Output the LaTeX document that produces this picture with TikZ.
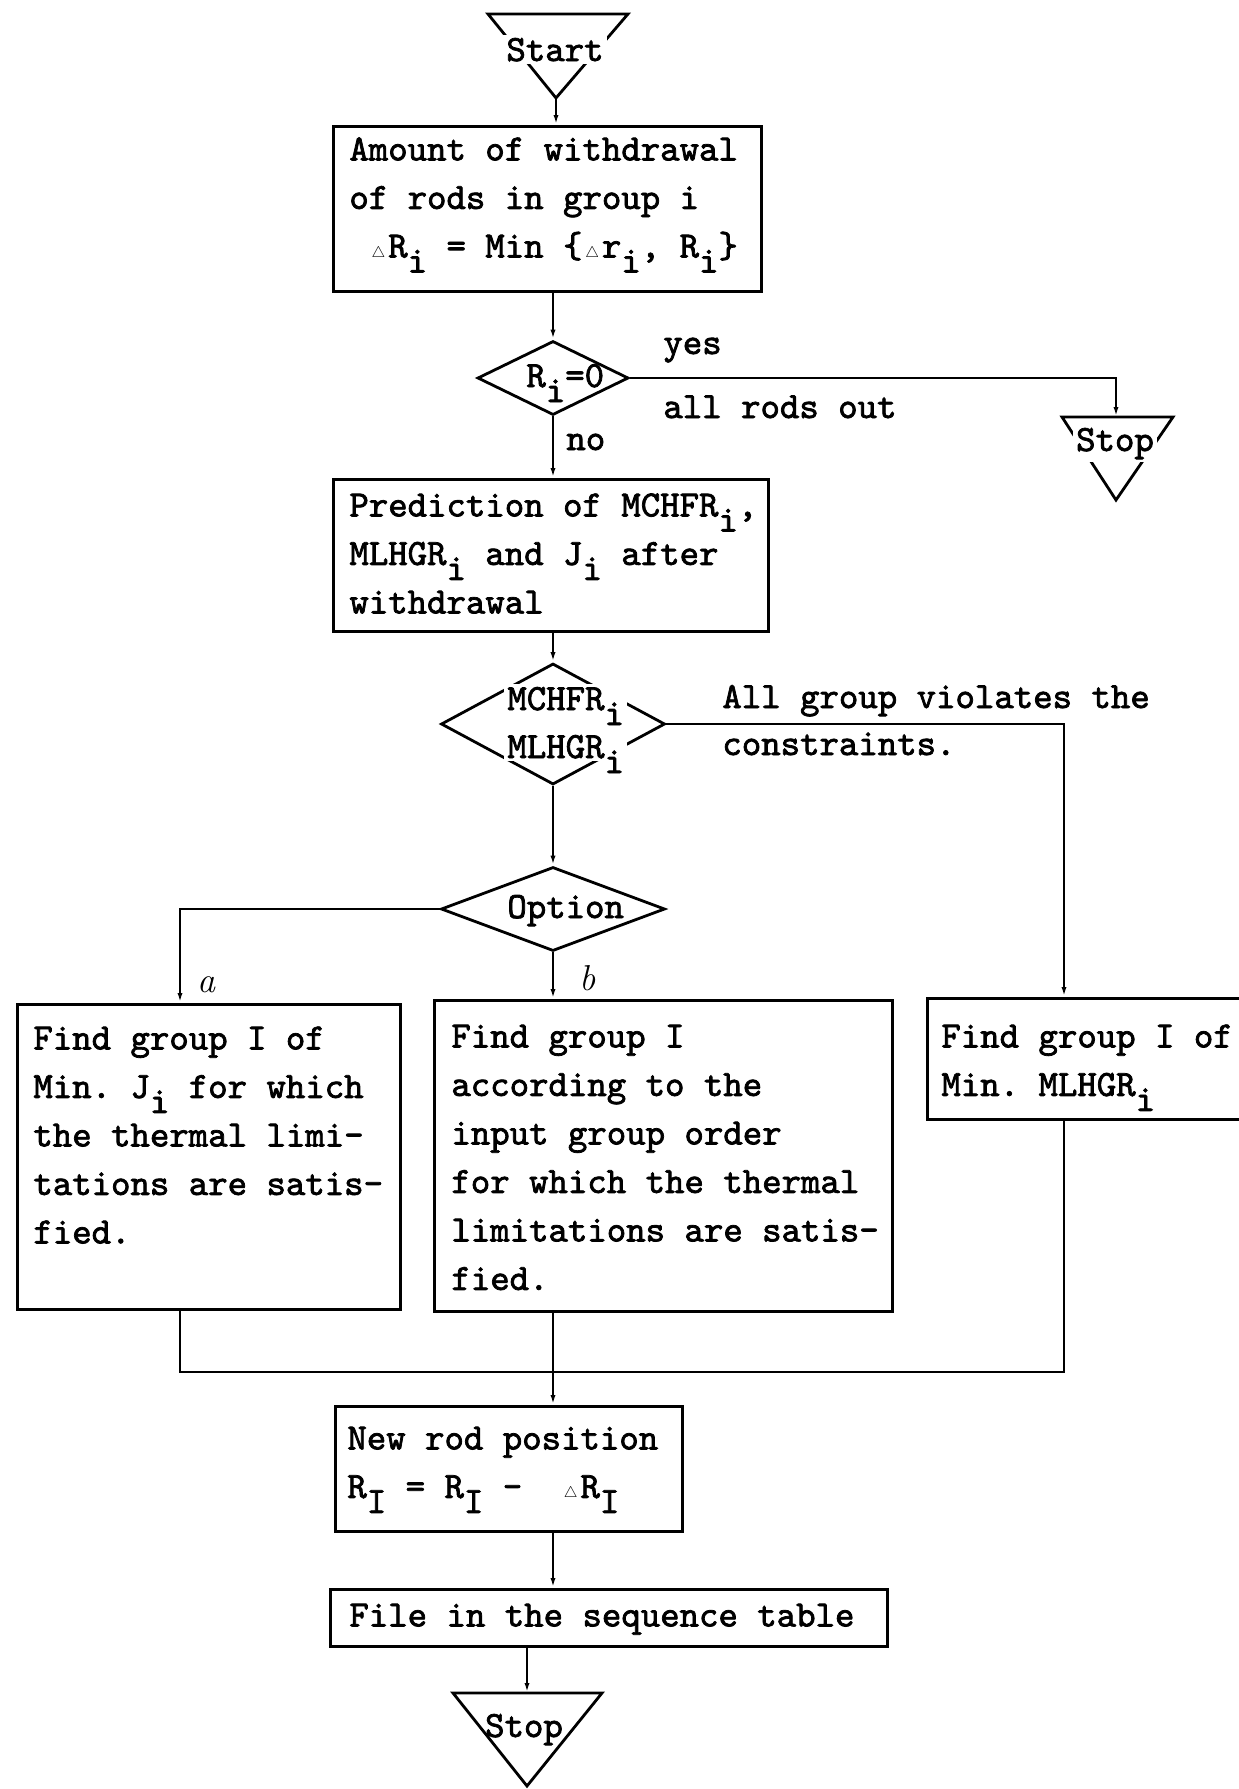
\documentclass[tikz,border=0pt]{standalone}
\usepackage{fontspec}
\setmonofont{lmmono10-regular.otf}[FakeBold=2]
\usepackage{graphicx}
\usetikzlibrary{arrows.meta,shapes.geometric}
\newcommand\tw{\fontsize{37}{48.5}\selectfont\ttfamily}
\newcommand\sbx[1]{\raisebox{-15pt}{#1}}
\newcommand\dl{\makebox[0.525em]{\scalebox{0.62}{$\triangle$}}}
\newcommand\fst{\rule{0pt}{28pt}}
\begin{document}
\begin{tikzpicture}[x=1pt,y=-1pt,line width=2.8pt,
  box/.style={draw, rectangle, inner sep=0pt, anchor=north west},
  dia/.style={draw, diamond, inner sep=0pt},
  txt/.style={font=\tw, align=left, inner sep=0pt, anchor=north west},
  lbl/.style={font=\tw, inner sep=0pt, anchor=base west},
  cut/.style={font=\tw, inner sep=3pt, fill=white, anchor=base west},
  hand/.style={font=\fontsize{36}{40}\selectfont\itshape, inner sep=0pt, anchor=base west},
  arr/.style={-{Latex[length=10pt,width=5pt]}}]
\useasboundingbox (0,0) rectangle (1239,1789);

% terminals
\coordinate (stA) at (556,98);
\draw (488,14) -- (628,14) -- (stA) -- cycle;
\coordinate (sp1T) at (1116,417);
\draw (1062,417) -- (1173,417) -- (1116,500) -- cycle;
\coordinate (sp2T) at (527,1693);
\draw (453,1693) -- (602,1693) -- (527,1786) -- cycle;

% boxes
\node[box, minimum width=428pt, minimum height=165pt] (b1) at (332,125) {};
\node[box, minimum width=435pt, minimum height=152pt] (b2) at (332,478) {};
\node[box, minimum width=383pt, minimum height=305pt] (ba) at (16,1003) {};
\node[box, minimum width=458pt, minimum height=311pt] (bb) at (433,999) {};
\node[box, minimum width=320pt, minimum height=121pt] (bc) at (926,997) {};
\node[box, minimum width=347pt, minimum height=125pt] (b6) at (334,1405) {};
\node[box, minimum width=557pt, minimum height=57pt] (b7) at (329,1588) {};

% decisions
\node[dia, minimum width=151pt, minimum height=74pt] (d1) at (553,378) {};
\node[dia, minimum width=224pt, minimum height=121pt] (d2) at (553,724) {};
\node[dia, minimum width=224pt, minimum height=84pt] (opt) at (553,909) {};

% connectors
\coordinate (j) at (553,1372);
\draw[arr] (stA) -- (stA |- b1.north);
\draw[arr] (d1.north |- b1.south) -- (d1.north);
\draw[arr] (d1.east) -| (sp1T);
\draw[arr] (d1.south) -- (d1.south |- b2.north);
\draw[arr] (d2.north |- b2.south) -- (d2.north);
\draw[arr] (d2.east) -| ([xshift=138pt]bc.north west);
\draw[arr] (d2.south) -- (opt.north);
\draw[arr] (opt.west) -| ([xshift=164pt]ba.north west);
\draw[arr] (opt.south) -- (opt.south |- bb.north);
\draw ([xshift=164pt]ba.south west) |- (j);
\draw ([xshift=138pt]bc.south west) |- (j);
\draw (bb.south -| j) -- (j);
\draw[arr] (j) -- (j |- b6.north);
\draw[arr] (b6.south -| j) -- (b7.north -| j);
\draw[arr] (sp2T |- b7.south) -- (sp2T);

% texts in boxes
\node[txt] (t1) at (348,131) {\fst Amount of withdrawal\\of rods in group i\\~\dl R\sbx{i} = Min \{\dl r\sbx{i}, R\sbx{i}\}};
\node[txt] (t2) at (348,487) {\fst Prediction of MCHFR\sbx{i},\\MLHGR\sbx{i} and J\sbx{i} after\\withdrawal};
\node[txt] (ta) at (32,1020) {\fst Find group I of\\Min. J\sbx{i} for which\\the thermal limi-\\tations are satis-\\fied.};
\node[txt] (tb) at (450,1018) {\fst Find group I\\according to the\\input group order\\for which the thermal\\limitations are satis-\\fied.};
\node[txt] (tc) at (940,1018) {\fst Find group I of\\Min. MLHGR\sbx{i}};
\node[txt] (t6) at (346,1420) {\fst New rod position\\R\sbx{I} = R\sbx{I} -~~\dl R\sbx{I}};
\node[txt] (t7) at (348,1597) {\fst File in the sequence table};

% texts in terminals and decisions
\node[cut, anchor=base] (tst) at (555,61) {Start};
\node[cut, anchor=base] (tsp1) at (1115,451) {Stop};
\node[lbl, anchor=base] (tsp2) at (524,1737) {Stop};
\node[lbl] (tr) at (525,387) {R\sbx{i}=0};
\node[cut] (tm1) at (503,710) {MCHFR\smash{\sbx{i}}};
\node[cut] (tm2) at (503,758) {MLHGR\smash{\sbx{i}}};
\node[lbl] (topt) at (506,918) {Option};

% connector labels
\node[lbl] (yes) at (662,354) {yes};
\node[lbl] (aro) at (662,418) {all rods out};
\node[lbl] (no) at (565,450) {no};
\node[lbl] (agv1) at (721,708) {All group violates the};
\node[lbl] (agv2) at (721,755) {constraints.};
\node[hand] (la) at (196,992) {a};
\node[hand] (lb) at (578,990) {b};
\end{tikzpicture}
\end{document}
